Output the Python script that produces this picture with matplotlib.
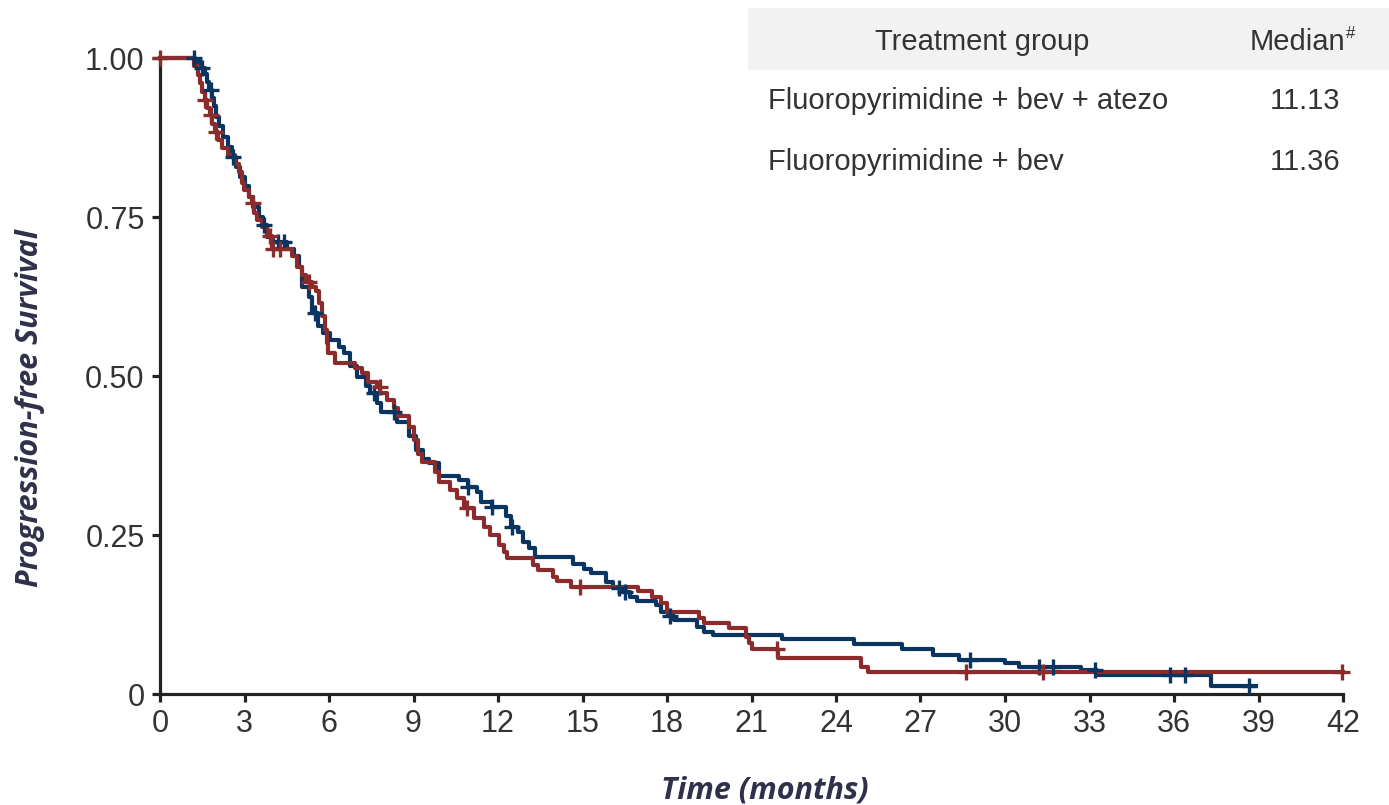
import numpy as np
import matplotlib
matplotlib.use("Agg")
import matplotlib.pyplot as plt
from matplotlib.patches import Rectangle

## Kaplan-Meier steps (time in months, survival after the step)
atezo_t = [0, 1.25, 1.45, 1.6, 1.68, 1.75, 1.83, 1.9, 2.0, 2.1, 2.22, 2.4, 2.55, 2.7, 2.85,
           3.0, 3.15, 3.3, 3.5, 3.65, 3.8, 4.0, 4.5, 4.75, 4.95, 5.05, 5.3, 5.4, 5.6, 5.8,
           6.05, 6.35, 6.55, 6.75, 7.0, 7.3, 7.45, 7.7, 7.85, 8.4, 8.85, 9.1, 9.35, 9.55,
           9.9, 10.6, 10.95, 11.25, 11.4, 11.8, 12.3, 12.45, 12.7, 12.9, 13.1, 13.3, 14.65,
           15.05, 15.3, 15.85, 16.1, 16.4, 16.7, 16.95, 17.6, 17.8, 18.05, 18.25, 19.05,
           19.3, 19.65, 22.1, 24.65, 26.35, 27.45, 28.35, 30.0, 30.5, 32.7, 33.25, 37.3, 38.9]
atezo_s = [1.0, 0.993, 0.985, 0.975, 0.963, 0.95, 0.937, 0.924, 0.908, 0.893, 0.876, 0.86,
           0.845, 0.829, 0.813, 0.798, 0.782, 0.766, 0.75, 0.737, 0.719, 0.711, 0.699, 0.688,
           0.672, 0.64, 0.625, 0.599, 0.578, 0.567, 0.557, 0.546, 0.536, 0.515, 0.499, 0.485,
           0.473, 0.457, 0.444, 0.428, 0.405, 0.384, 0.37, 0.363, 0.343, 0.336, 0.326, 0.318,
           0.302, 0.2945, 0.28, 0.263, 0.255, 0.2395, 0.229, 0.216, 0.205, 0.197, 0.19, 0.176,
           0.167, 0.16, 0.153, 0.147, 0.14, 0.129, 0.122, 0.116, 0.105, 0.098, 0.092, 0.086,
           0.079, 0.071, 0.062, 0.054, 0.048, 0.043, 0.038, 0.03, 0.012, 0.012]
atezo_cens = [1.2, 1.5, 1.8, 2.6, 3.7, 4.2, 4.4, 5.5, 7.6, 8.3, 10.95, 11.8, 12.5, 16.3,
              16.5, 18.1, 28.75, 31.2, 31.7, 33.2, 35.85, 36.4, 38.65]

bev_t = [0, 1.2, 1.35, 1.42, 1.5, 1.6, 1.66, 1.78, 1.85, 1.95, 2.05, 2.2, 2.4, 2.65, 2.82,
         2.9, 2.98, 3.15, 3.25, 3.35, 3.45, 3.62, 3.8, 3.97, 4.7, 4.85, 5.05, 5.2, 5.4, 5.55,
         5.65, 5.75, 5.85, 5.92, 5.98, 6.2, 6.92, 7.16, 7.4, 7.7, 7.82, 8.05, 8.3, 8.46,
         8.85, 9.0, 9.15, 9.3, 9.75, 9.9, 10.3, 10.55, 10.8, 11.15, 11.5, 11.72, 12.02, 12.2,
         12.32, 13.26, 13.43, 13.96, 14.08, 14.6, 16.98, 17.45, 17.8, 18.0, 19.14, 19.3,
         20.2, 20.8, 20.9, 21.0, 21.95, 24.9, 25.14, 42.0]
bev_s = [1.0, 0.987, 0.973, 0.96, 0.947, 0.934, 0.921, 0.91, 0.897, 0.884, 0.871, 0.858,
         0.847, 0.834, 0.821, 0.803, 0.792, 0.782, 0.772, 0.756, 0.745, 0.735, 0.72, 0.699,
         0.688, 0.672, 0.659, 0.648, 0.64, 0.633, 0.615, 0.594, 0.573, 0.552, 0.536, 0.521,
         0.512, 0.504, 0.491, 0.483, 0.473, 0.462, 0.449, 0.437, 0.42, 0.399, 0.378, 0.365,
         0.349, 0.334, 0.321, 0.308, 0.292, 0.276, 0.263, 0.25, 0.234, 0.2225, 0.2134, 0.203,
         0.195, 0.184, 0.178, 0.169, 0.162, 0.152, 0.143, 0.129, 0.119, 0.112, 0.103, 0.09,
         0.08, 0.071, 0.056, 0.043, 0.034, 0.034]
bev_cens = [0, 1.6, 1.8, 2.0, 3.3, 3.9, 4.0, 4.25, 5.3, 7.8, 10.9, 14.9, 21.9, 28.6, 31.35, 41.98]

groups = ["Fluoropyrimidine + bev + atezo", "Fluoropyrimidine + bev"]
medians = ["11.13", "11.36"]
xticks = np.arange(0, 43, 3)
yticks = [0, 0.25, 0.5, 0.75, 1.0]
ytick_labels = ["0", "0.25", "0.50", "0.75", "1.00"]

blue = "#0b3561"
red = "#8c2b2b"
txt = "#333333"
lab = "#2f3049"

W, H = 1389, 805
fig = plt.figure(figsize=(W / 100, H / 100), dpi=100)
ax = fig.add_axes([160 / W, 1 - 694 / H, (1343 - 160) / W, (694 - 58) / H])

def km(t, s, cens, color):
    ax.step(t, s, where="post", color=color, lw=3.0, clip_on=False, zorder=3)
    idx = np.searchsorted(t, cens, side="right") - 1
    ax.plot(cens, np.array(s)[idx], ls="none", marker="+", ms=12, mew=2.4,
            color=color, clip_on=False, zorder=4)

km(atezo_t, atezo_s, atezo_cens, blue)
km(bev_t, bev_s, bev_cens, red)

ax.set_xlim(0, 42)
ax.set_ylim(0, 1.0)
ax.set_xticks(xticks)
ax.set_yticks(yticks)
ax.set_yticklabels(ytick_labels)
for sp in ["top", "right"]:
    ax.spines[sp].set_visible(False)
for sp in ["left", "bottom"]:
    ax.spines[sp].set_linewidth(2.3)
    ax.spines[sp].set_color("#222222")
ax.tick_params(width=2.3, length=6, color="#222222", labelsize=22, labelcolor=txt, pad=5)
for l in ax.get_xticklabels() + ax.get_yticklabels():
    l.set_fontfamily("Liberation Sans")

lk = dict(fontsize=22, fontweight="bold", style="italic", family="Open Sans", color=lab)
fig.text(765 / W, 1 - 790 / H, "Time (months)", ha="center", va="center", **lk)
fig.text(30 / W, 1 - 408 / H, "Progression-free Survival", ha="center", va="center",
         rotation=90, **lk)

# table in the upper right
fig.patches.append(Rectangle((748 / W, 1 - 70 / H), (W - 748) / W, 62 / H,
                             transform=fig.transFigure, facecolor="#f2f2f2",
                             edgecolor="none", zorder=0))
tk = dict(fontsize=21, color=txt, family="Liberation Sans", va="center")
fig.text(982 / W, 1 - 42 / H, "Treatment group", ha="center", **tk)
fig.text(1345 / W, 1 - 42 / H, "Median", ha="right", **tk)
fig.text(1346 / W, 1 - 33 / H, "#", ha="left", fontsize=12, color=txt,
         family="Liberation Sans", va="center")
for i, (g, m) in enumerate(zip(groups, medians)):
    y = 1 - (101 + 61 * i) / H
    fig.text(768 / W, y, g, ha="left", **tk)
    fig.text(1305 / W, y, m, ha="center", **tk)

fig.savefig("out.png", dpi=100)
